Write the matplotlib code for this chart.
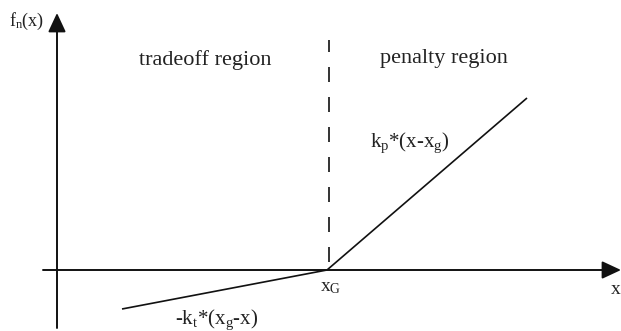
import matplotlib
matplotlib.use("Agg")
import matplotlib.pyplot as plt

# ── diagram data (units: 1 = 10 px in the reference, origin at axes crossing) ──
x_axis = [-1.4, 56.4]          # horizontal axis extent (arrow at right end)
y_axis = [-5.8, 25.7]          # vertical axis extent (arrow at top end)
x_g = 27.0                     # breakpoint x_G
tradeoff_x = [6.5, x_g]        # -k_t*(x_g - x)
tradeoff_y = [-3.9, 0.0]
penalty_x = [x_g, 47.0]        # k_p*(x - x_g)
penalty_y = [0.0, 17.2]
divider_y = [0.8, 23.0]        # dashed boundary between regions

region_labels = ["tradeoff region", "penalty region"]
region_pos = [(14.8, 21.0), (38.7, 21.2)]

plt.rcParams["font.family"] = ["Liberation Serif", "DejaVu Serif"]
plt.rcParams["mathtext.fontset"] = "custom"
plt.rcParams["mathtext.rm"] = "Liberation Serif"
plt.rcParams["mathtext.it"] = "Liberation Serif"

fig = plt.figure(figsize=(6.21, 3.31), dpi=100)
ax = fig.add_axes([0, 0, 1, 1])
ax.set_xlim(-5.7, 56.4)
ax.set_ylim(-6.1, 27.0)
ax.axis("off")

ink = "#111111"
txt = "#222222"

# axes with filled arrowheads
arrow = dict(arrowstyle="-|>,head_length=0.58,head_width=0.27",
             mutation_scale=20, lw=1.4, color=ink, shrinkA=0, shrinkB=0)
ax.annotate("", xy=(x_axis[1], 0), xytext=(x_axis[0], 0), arrowprops=arrow)
ax.annotate("", xy=(0, y_axis[1]), xytext=(0, y_axis[0]), arrowprops=arrow)

# piecewise-linear cost
ax.plot(tradeoff_x, tradeoff_y, color=ink, lw=1.2, solid_capstyle="butt")
ax.plot(penalty_x, penalty_y, color=ink, lw=1.2, solid_capstyle="butt")

# region boundary
ax.plot([x_g + 0.2, x_g + 0.2], divider_y, color=ink, lw=1.2, dashes=(9, 9))

for label, (lx, ly) in zip(region_labels, region_pos):
    ax.text(lx, ly, label, fontsize=16, color=txt, ha="center", va="center")

ax.text(-3.0, 24.9, r"f$\mathregular{_n}$(x)", fontsize=13, color=txt,
        ha="center", va="center")
ax.text(35.3, 12.7, r"k$\mathregular{_p}$*(x-x$\mathregular{_g}$)", fontsize=15,
        color=txt, ha="center", va="center")
ax.text(16.0, -5.0, r"-k$\mathregular{_t}$*(x$\mathregular{_g}$-x)", fontsize=15,
        color=txt, ha="center", va="center")
ax.text(x_g + 0.4, -1.8, r"x$\mathregular{_G}$", fontsize=14, color=txt,
        ha="center", va="center")
ax.text(55.9, -2.0, "x", fontsize=14, color=txt, ha="center", va="center")

fig.savefig("out.png", dpi=100)
